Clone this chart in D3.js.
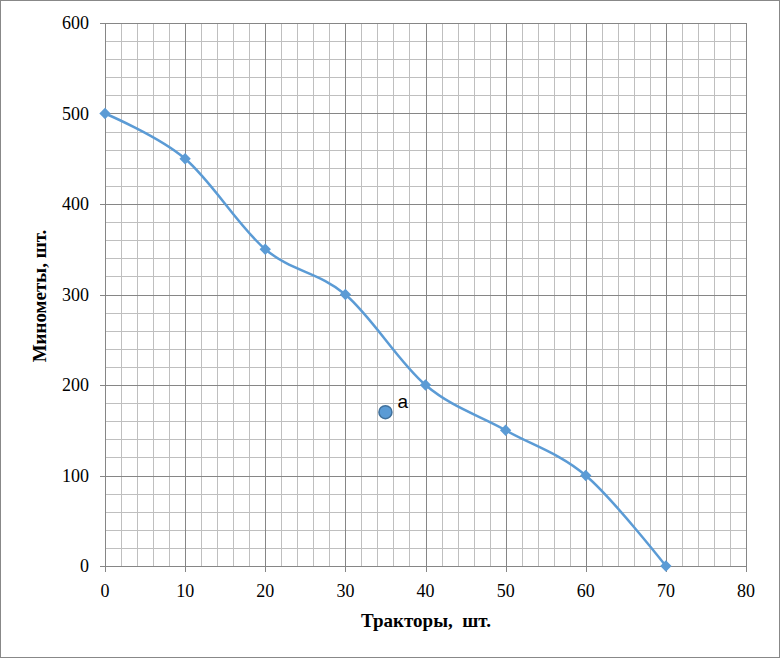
<!DOCTYPE html>
<html><head><meta charset="utf-8">
<script src="https://d3js.org/d3.v7.min.js"></script>
<style>body{margin:0;background:#fff}svg{display:block}
.serif{font-family:"Liberation Serif","Times New Roman",serif}
.sans{font-family:"Liberation Sans",Arial,sans-serif}
</style>
</head><body>
<svg id="c" width="780" height="658"></svg>
<script>
const tractors = [0, 10, 20, 30, 40, 50, 60, 70];
const mortars = [500, 450, 350, 300, 200, 150, 100, 0];
const pointA = [35, 170];
const pointALabel = "a";
const xTicks = [0, 10, 20, 30, 40, 50, 60, 70, 80];
const yTicks = [0, 100, 200, 300, 400, 500, 600];
const xTitle = "Тракторы,  шт.";
const yTitle = "Минометы, шт.";

const svg = d3.select("#c");
svg.append("rect").attr("x",0.5).attr("y",0.5).attr("width",779).attr("height",657)
  .attr("fill","#fff").attr("stroke","#888").attr("stroke-width",1);

const L=105, R=746, T=23, B=566;
const x = d3.scaleLinear().domain([0,80]).range([L,R]);
const y = d3.scaleLinear().domain([0,600]).range([B,T]);

const g = svg.append("g");
d3.range(0,81,2).filter(v=>v%10!==0).forEach(v=>{
  g.append("line").attr("x1",Math.round(x(v))+0.5).attr("x2",Math.round(x(v))+0.5).attr("y1",T).attr("y2",B)
   .attr("stroke","#bfbfbf").attr("stroke-width",1);
});
d3.range(0,601,20).filter(v=>v%100!==0).forEach(v=>{
  g.append("line").attr("y1",Math.round(y(v))+0.5).attr("y2",Math.round(y(v))+0.5).attr("x1",L).attr("x2",R)
   .attr("stroke","#bfbfbf").attr("stroke-width",1);
});
xTicks.forEach(v=>{
  g.append("line").attr("x1",Math.round(x(v))+0.5).attr("x2",Math.round(x(v))+0.5).attr("y1",T).attr("y2",B)
   .attr("stroke","#868686").attr("stroke-width",1);
});
yTicks.forEach(v=>{
  g.append("line").attr("y1",Math.round(y(v))+0.5).attr("y2",Math.round(y(v))+0.5).attr("x1",L-5).attr("x2",R)
   .attr("stroke","#868686").attr("stroke-width",1);
});
xTicks.forEach(v=>{
  g.append("line").attr("x1",Math.round(x(v))+0.5).attr("x2",Math.round(x(v))+0.5).attr("y1",B).attr("y2",B+6)
   .attr("stroke","#868686").attr("stroke-width",1);
});

g.selectAll(".xl").data(xTicks).enter().append("text").attr("class","serif")
  .attr("x",d=>x(d)).attr("y",B+31).attr("text-anchor","middle")
  .attr("font-size",18).attr("fill","#000").text(d=>d);
g.selectAll(".yl").data(yTicks).enter().append("text").attr("class","serif")
  .attr("x",L-16).attr("y",d=>y(d)+6).attr("text-anchor","end")
  .attr("font-size",18).attr("fill","#000").text(d=>d);

svg.append("text").attr("class","serif").attr("x",426).attr("y",627).attr("text-anchor","middle")
  .attr("font-size",19).attr("font-weight","bold").style("white-space","pre").text(xTitle);
svg.append("text").attr("class","serif").attr("transform","translate(46,296) rotate(-90)").attr("text-anchor","middle")
  .attr("font-size",19).attr("font-weight","bold").text(yTitle);

const data = tractors.map((t,i)=>[t,mortars[i]]);
const line = d3.line().x(d=>x(d[0])).y(d=>y(d[1])).curve(d3.curveCardinal.tension(0));
svg.append("path").attr("d",line(data)).attr("fill","none").attr("stroke","#5b9bd5").attr("stroke-width",2.5);

svg.selectAll(".m").data(data).enter().append("path")
  .attr("transform",d=>`translate(${x(d[0])},${y(d[1])}) rotate(45)`)
  .attr("d",d3.symbol().type(d3.symbolSquare).size(64)()).attr("fill","#5b9bd5");

svg.append("circle").attr("cx",x(pointA[0])).attr("cy",y(pointA[1])).attr("r",6.5)
  .attr("fill","#5b9bd5").attr("stroke","#41719c").attr("stroke-width",1.5);
svg.append("text").attr("class","sans").attr("x",x(pointA[0])+12).attr("y",y(pointA[1])-4)
  .attr("font-size",19).attr("fill","#000").text(pointALabel);
</script>
</body></html>
